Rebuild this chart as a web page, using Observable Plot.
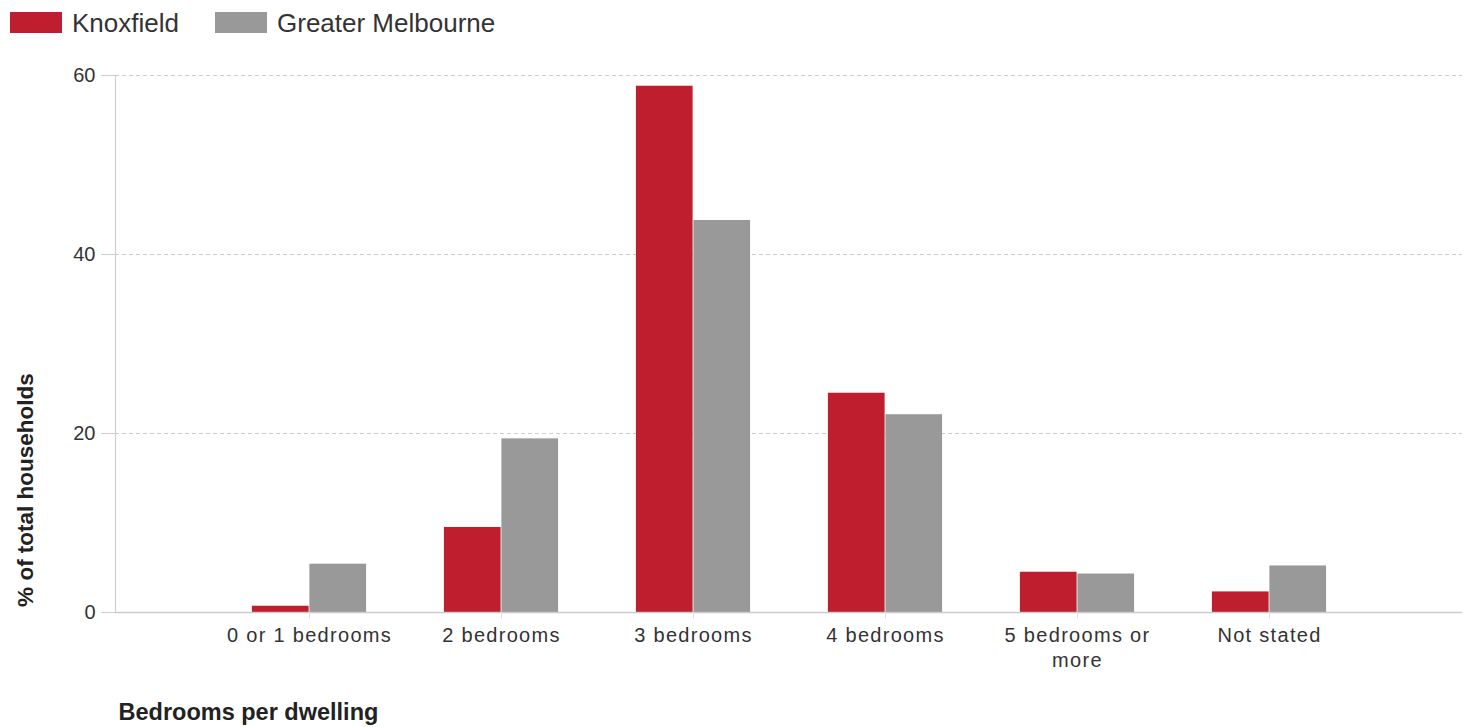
<!DOCTYPE html>
<html>
<head>
<meta charset="utf-8">
<script src="https://cdn.jsdelivr.net/npm/d3@7"></script>
<script src="https://cdn.jsdelivr.net/npm/@observablehq/plot@0.6"></script>
<style>
  html, body { margin: 0; padding: 0; background: #fff; }
  body { width: 1471px; height: 727px; overflow: hidden; font-family: "Liberation Sans", Arial, sans-serif; color: #333; }
  #legend { position: relative; height: 45px; }
  .sw { position: absolute; top: 12px; width: 52px; height: 21px; }
  .lt { position: absolute; top: 8px; font-size: 26px; line-height: 30px; color: #333; }
  #chart svg { display: block; }
  #chart g[aria-label="x-axis tick label"] text { letter-spacing: 1.3px; }
</style>
</head>
<body>
<div id="legend"></div>
<div id="chart"></div>
<script>
const categories = ["0 or 1 bedrooms", "2 bedrooms", "3 bedrooms", "4 bedrooms", "5 bedrooms or more", "Not stated"];
const tickLabels = ["0 or 1 bedrooms", "2 bedrooms", "3 bedrooms", "4 bedrooms", "5 bedrooms or\nmore", "Not stated"];
const seriesNames = ["Knoxfield", "Greater Melbourne"];
const knoxfield = [0.7, 9.5, 58.8, 24.5, 4.5, 2.3];
const greaterMelbourne = [5.4, 19.4, 43.8, 22.1, 4.3, 5.2];
const yTicks = [0, 20, 40, 60];
const xTitle = "Bedrooms per dwelling";
const yTitle = "% of total households";
const colors = ["#be1e2d", "#999999"];

const rows = [];
categories.forEach((c, i) => {
  rows.push({category: c, series: seriesNames[0], value: knoxfield[i]});
  rows.push({category: c, series: seriesNames[1], value: greaterMelbourne[i]});
});

// legend
const legend = document.getElementById("legend");
const legendPos = [[10, 72], [215, 277]];
seriesNames.forEach((s, i) => {
  const sw = document.createElement("div");
  sw.className = "sw"; sw.style.left = legendPos[i][0] + "px"; sw.style.background = colors[i];
  const t = document.createElement("div");
  t.className = "lt"; t.style.left = legendPos[i][1] + "px"; t.textContent = s;
  legend.appendChild(sw); legend.appendChild(t);
});

const labelMap = new Map(categories.map((c, i) => [c, tickLabels[i]]));
const half = 96.4, barW = 57.5;

const chart = Plot.plot({
  width: 1471,
  height: 682,
  marginLeft: 115,
  marginRight: 9,
  marginTop: 30,
  marginBottom: 115,
  style: {fontFamily: "'Liberation Sans', Arial, sans-serif", background: "#fff", overflow: "visible"},
  x: {domain: categories, paddingInner: 0, paddingOuter: 0.4935, label: null},
  y: {domain: [0, 60], ticks: yTicks, label: null},
  color: {domain: seriesNames, range: colors},
  marks: [
    Plot.ruleY(yTicks.filter(d => d > 0), {stroke: "#cccccc", strokeDasharray: "4,3", strokeWidth: 1}),
    Plot.frame({anchor: "left", stroke: "#cccccc"}),
    Plot.barY(rows.filter(d => d.series === seriesNames[0]), {x: "category", y: "value", fill: "series", insetLeft: half - barW, insetRight: half}),
    Plot.barY(rows.filter(d => d.series === seriesNames[1]), {x: "category", y: "value", fill: "series", insetLeft: half, insetRight: half - barW}),
    Plot.ruleY([0], {stroke: "#cccccc", strokeWidth: 1.5}),
    Plot.axisY({ticks: yTicks, tickSize: 14, tickPadding: 6, stroke: "#cccccc", fill: "#333", fontSize: 20, label: null}),
    Plot.axisX({tickSize: 6, tickPadding: 6, stroke: "#dddddd", fill: "#333", fontSize: 20, lineHeight: 1.25, tickFormat: d => labelMap.get(d), label: null}),
    Plot.text([xTitle], {text: d => d, frameAnchor: "bottom-left", textAnchor: "start", dx: 3, dy: 107, fontSize: 23.5, fontWeight: "bold", fill: "#222"}),
    Plot.text([yTitle], {text: d => d, frameAnchor: "left", textAnchor: "middle", rotate: -90, dx: -90, dy: 146, fontSize: 22.5, fontWeight: "bold", fill: "#222"})
  ]
});
document.getElementById("chart").appendChild(chart);
</script>
</body>
</html>
